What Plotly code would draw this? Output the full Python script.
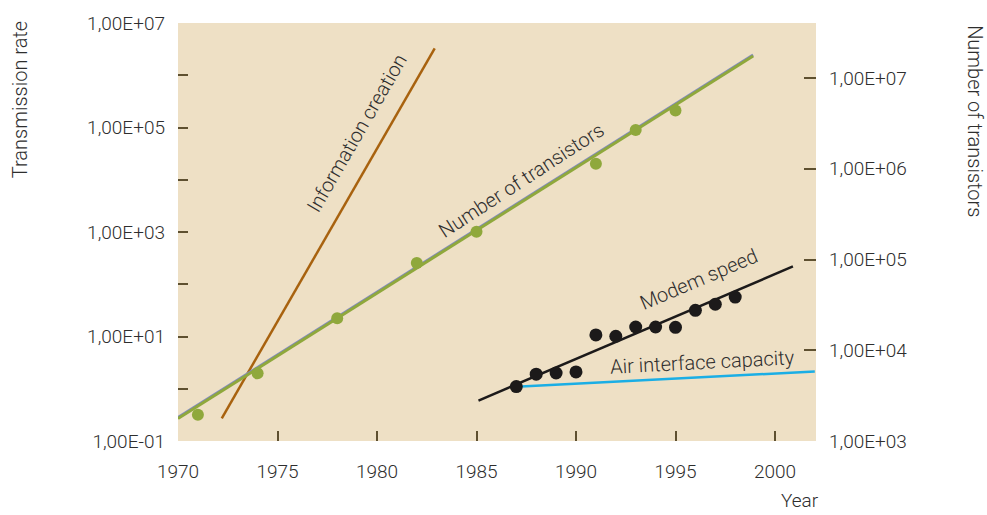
import plotly.graph_objects as go

# ---------------- data ----------------
transistor_years = [1971, 1974, 1978, 1982, 1985, 1991, 1993, 1995]
transistor_counts = [1950, 5570, 22600, 91400, 203000, 1140000, 2680000, 4390000]

transistor_trend_years = [1970, 1998.9]
transistor_trend_counts = [1766, 17500000]
transistor_fit_counts = [1810, 17950000]

info_years = [1972.2, 1982.9]
info_rate = [0.272, 3270000]

modem_years = [1987, 1988, 1989, 1990, 1991, 1992, 1993, 1994, 1995, 1996, 1997, 1998]
modem_rate = [1.1, 1.9, 2.0, 2.1, 10.7, 10.1, 15.2, 15.2, 15.0, 31.7, 41.4, 56.9]

modem_trend_years = [1985.1, 2000.9]
modem_trend_rate = [0.594, 219]

air_years = [1987, 2002]
air_rate = [1.09, 2.14]

left_tickvals = [1e-1, 1e0, 1e1, 1e2, 1e3, 1e4, 1e5, 1e6, 1e7]
left_ticktext = ["1,00E-01", "", "1,00E+01", "", "1,00E+03", "", "1,00E+05", "", "1,00E+07"]
right_tickvals = [1e3, 1e4, 1e5, 1e6, 1e7]
right_ticktext = ["1,00E+03", "1,00E+04", "1,00E+05", "1,00E+06", "1,00E+07"]
year_ticks = [1970, 1975, 1980, 1985, 1990, 1995, 2000]

# ---------------- style ----------------
FONT = "Roboto"
TXT = "#2e2e2e"
TICKC = "#5e5030"
BG = "#eee0c5"
GREEN = "#8fa83c"
PURPLE = "#7f88c0"
BROWN = "#a8620f"
BLACK = "#1c1a1a"
BLUE = "#1aaee5"

fig = go.Figure()

# transistor fit lines (right axis)
fig.add_trace(go.Scatter(x=transistor_trend_years, y=transistor_fit_counts, mode="lines",
                         line=dict(color=PURPLE, width=3), yaxis="y2", hoverinfo="skip"))
fig.add_trace(go.Scatter(x=transistor_trend_years, y=transistor_trend_counts, mode="lines",
                         line=dict(color=GREEN, width=3), yaxis="y2", hoverinfo="skip"))
fig.add_trace(go.Scatter(x=transistor_years, y=transistor_counts, mode="markers",
                         marker=dict(color=GREEN, size=12), yaxis="y2"))

# information creation
fig.add_trace(go.Scatter(x=info_years, y=info_rate, mode="lines",
                         line=dict(color=BROWN, width=2.5)))

# air interface capacity
fig.add_trace(go.Scatter(x=air_years, y=air_rate, mode="lines",
                         line=dict(color=BLUE, width=2.5)))

# modem speed
fig.add_trace(go.Scatter(x=modem_trend_years, y=modem_trend_rate, mode="lines",
                         line=dict(color=BLACK, width=2.5)))
fig.add_trace(go.Scatter(x=modem_years, y=modem_rate, mode="markers",
                         marker=dict(color=BLACK, size=13)))

tickfont = dict(family=FONT, size=19, color=TXT, weight=300)

fig.update_layout(
    width=987, height=515,
    margin=dict(l=178, r=171, t=17, b=74),
    paper_bgcolor="white",
    plot_bgcolor=BG,
    showlegend=False,
    font=dict(family=FONT, color=TXT, size=19, weight=300),
    xaxis=dict(range=[1970, 2002.06], tickvals=year_ticks, ticks="inside", ticklen=10,
               tickwidth=2, tickcolor=TICKC, showgrid=False, zeroline=False, showline=False,
               tickfont=tickfont, ticklabelstandoff=17),
    yaxis=dict(type="log", range=[-1, 7], tickvals=left_tickvals, ticktext=left_ticktext,
               ticks="inside", ticklen=10, tickwidth=2, tickcolor=TICKC, showgrid=False,
               zeroline=False, showline=False, tickfont=tickfont, ticklabelstandoff=12),
    yaxis2=dict(type="log", range=[3, 7.607], overlaying="y", side="right",
                tickvals=right_tickvals, ticktext=right_ticktext, ticks="inside", ticklen=12,
                tickwidth=2, tickcolor=TICKC, showgrid=False, zeroline=False, showline=False,
                tickfont=tickfont, ticklabelstandoff=12),
)

ann_font = dict(family=FONT, size=20, color=TXT, weight=300)
annotations = [
    dict(text="Information creation", x=1979.0, y=4.887, textangle=-60),
    dict(text="Number of transistors", x=1987.26, y=4.0, textangle=-33),
    dict(text="Modem speed", x=1996.2, y=2.094, textangle=-23),
    dict(text="Air interface capacity", x=1996.38, y=0.509, textangle=-3),
]
for a in annotations:
    fig.add_annotation(xref="x", yref="y", showarrow=False, font=ann_font,
                       xanchor="center", yanchor="middle", **a)

fig.add_annotation(text="Transmission rate", xref="paper", yref="paper", x=-0.2476, y=1.008,
                   textangle=-90, showarrow=False, font=ann_font, xanchor="center", yanchor="top")
fig.add_annotation(text="Number of transistors", xref="paper", yref="paper", x=1.249, y=1.0,
                   textangle=90, showarrow=False, font=ann_font, xanchor="center", yanchor="top")
fig.add_annotation(text="Year", xref="paper", yref="paper", x=0.975, y=-0.142,
                   showarrow=False, font=dict(family=FONT, size=19, color=TXT, weight=300),
                   xanchor="center", yanchor="middle")

fig.write_html("out.html")
